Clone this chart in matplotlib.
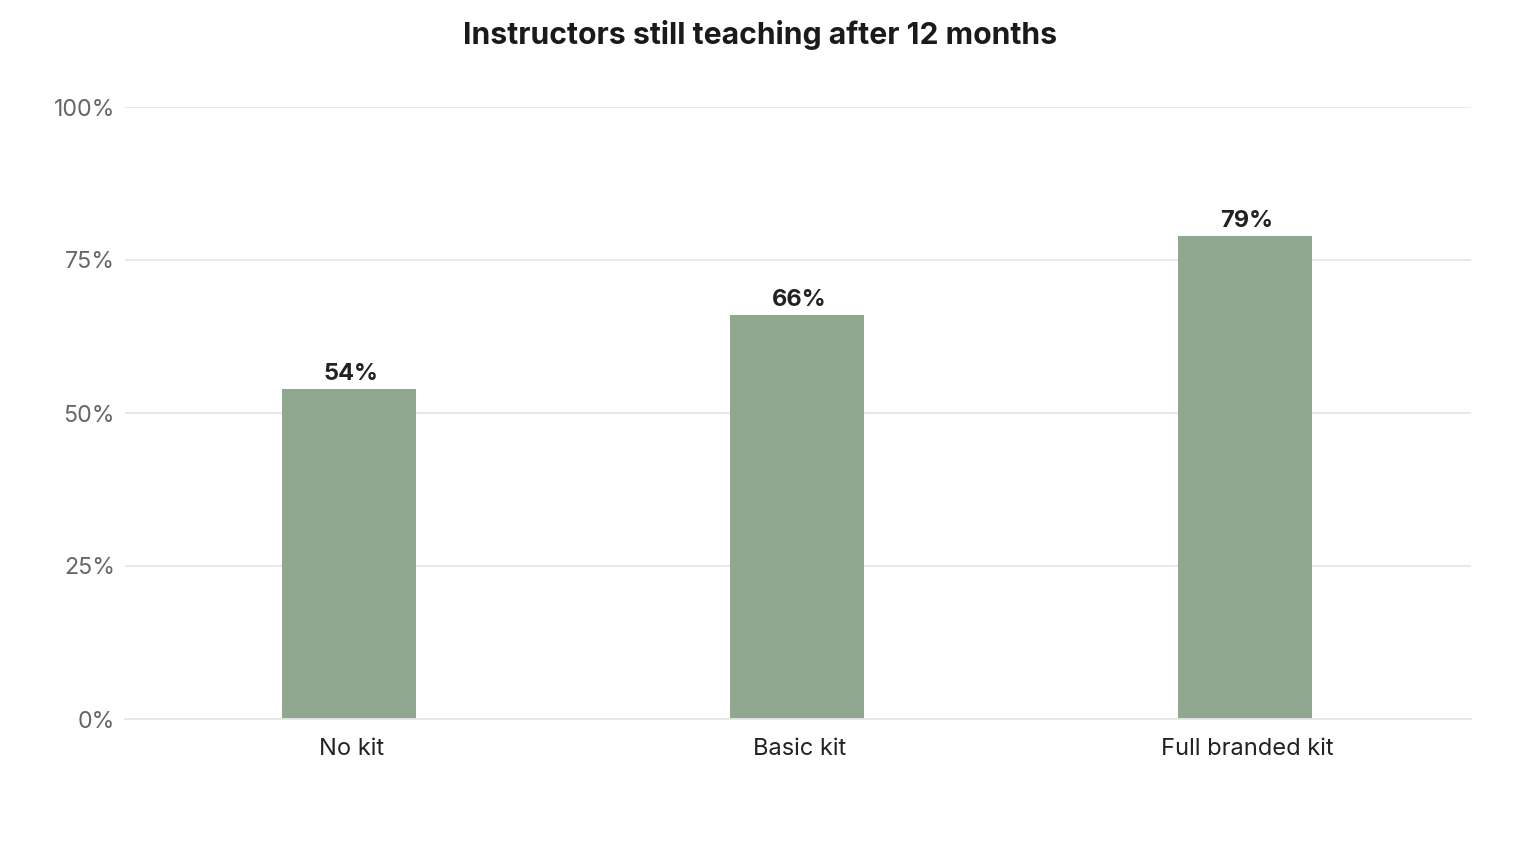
import matplotlib
matplotlib.use("Agg")
import matplotlib.pyplot as plt

categories = ["No kit", "Basic kit", "Full branded kit"]
values = [54, 66, 79]
yticks = [0, 25, 50, 75, 100]

plt.rcParams["font.family"] = ["Inter", "DejaVu Sans"]

fig = plt.figure(figsize=(15.2, 8.6), dpi=100)
ax = fig.add_axes([125 / 1520, 141 / 860, 1346 / 1520, 612 / 860])

x = range(len(categories))
bars = ax.bar(x, values, width=0.3, color="#8fa88f", zorder=2)
for b, v in zip(bars, values):
    ax.text(b.get_x() + b.get_width() / 2 + 0.005, v + 0.6, f"{v}%", ha="center", va="bottom",
            fontsize=17, fontweight="bold", color="#222222")

ax.set_xlim(-0.5, 2.505)
ax.set_ylim(0, 100)
ax.set_yticks(yticks)
ax.set_yticklabels([f"{t}%" for t in yticks])
ax.set_xticks([i + 0.006 for i in x])
ax.set_xticklabels(categories)
ax.tick_params(axis="y", length=0, pad=7.3, labelsize=16.7, labelcolor="#666666")
ax.tick_params(axis="x", length=0, pad=13.5, labelsize=17, labelcolor="#222222")
ax.grid(axis="y", color="#e6e6e6", linewidth=1.3, zorder=0)
for s in ["top", "right", "left"]:
    ax.spines[s].set_visible(False)
ax.spines["bottom"].set_color("#e6e6e6")
ax.spines["bottom"].set_linewidth(1.3)

fig.text(0.5, 1 - 35 / 860, "Instructors still teaching after 12 months", ha="center", va="center",
         fontsize=21.7, fontweight="bold", color="#1a1a1a")

fig.savefig("out.png", dpi=100)
